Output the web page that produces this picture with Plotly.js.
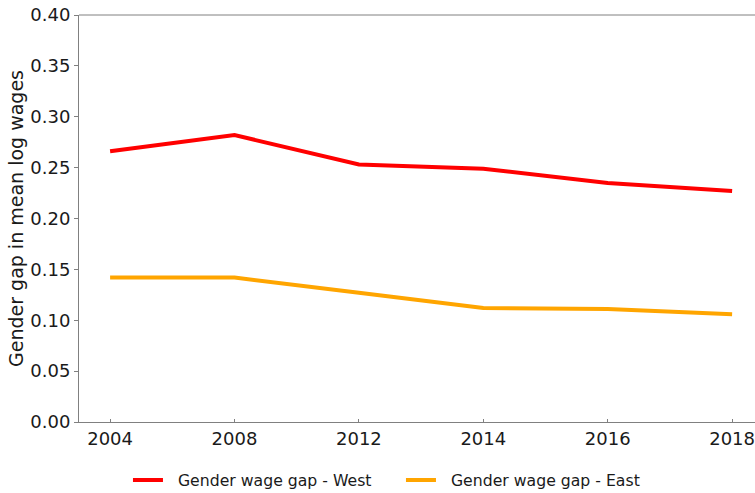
<!DOCTYPE html>
<html>
<head>
<meta charset="utf-8">
<script src="https://cdn.plot.ly/plotly-3.0.1.min.js"></script>
<style>html,body{margin:0;padding:0;background:#fff;}#chart{width:755px;height:493px;}</style>
</head>
<body>
<div id="chart"></div>
<script>
const years = ["2004", "2008", "2012", "2014", "2016", "2018"];
const westGap = [0.266, 0.282, 0.253, 0.249, 0.235, 0.227];
const eastGap = [0.142, 0.142, 0.127, 0.112, 0.111, 0.106];
const yTicks = [0, 0.05, 0.10, 0.15, 0.20, 0.25, 0.30, 0.35, 0.40];
const seriesNames = ["Gender wage gap - West", "Gender wage gap - East"];

const font = "DejaVu Sans, sans-serif";
const pad = "\u00a0\u00a0";
const traces = [
  {x: years, y: westGap, type: "scatter", mode: "lines", name: pad + seriesNames[0],
   line: {color: "#ff0000", width: 4}},
  {x: years, y: eastGap, type: "scatter", mode: "lines", name: pad + seriesNames[1],
   line: {color: "#ffa500", width: 4}}
];
const layout = {
  width: 755, height: 493,
  margin: {l: 79, r: 0, t: 15, b: 71, autoexpand: false},
  paper_bgcolor: "#fff", plot_bgcolor: "#fff",
  font: {family: font, color: "#000"},
  showlegend: true,
  legend: {orientation: "h", xref: "container", yref: "container",
           x: 0.1695, xanchor: "left", y: 0.026, yanchor: "middle",
           entrywidth: 228, entrywidthmode: "pixels",
           font: {family: font, size: 15.7, color: "#1a1a1a"}, tracegroupgap: 0},
  xaxis: {type: "category", range: [-0.25, 5.184], showgrid: false, zeroline: false,
          showline: true, linecolor: "#808080", linewidth: 1,
          ticks: "inside", ticklen: 3, tickcolor: "#808080",
          tickfont: {family: font, size: 18, color: "#1a1a1a"}, fixedrange: true},
  yaxis: {range: [0, 0.4], tickvals: yTicks, tickformat: ".2f", showgrid: false, zeroline: false,
          showline: true, linecolor: "#808080", linewidth: 1,
          ticks: "outside", ticklen: 4, tickcolor: "#808080",
          tickfont: {family: font, size: 18, color: "#1a1a1a"},
          title: {text: "Gender gap in mean log wages", font: {family: font, size: 19, color: "#1a1a1a"}, standoff: 1}},
  shapes: [{type: "line", xref: "paper", yref: "paper", x0: 0, x1: 1, y0: 1, y1: 1,
            line: {color: "#808080", width: 1}}]
};
Plotly.newPlot("chart", traces, layout, {displayModeBar: false, staticPlot: true});
</script>
</body>
</html>
